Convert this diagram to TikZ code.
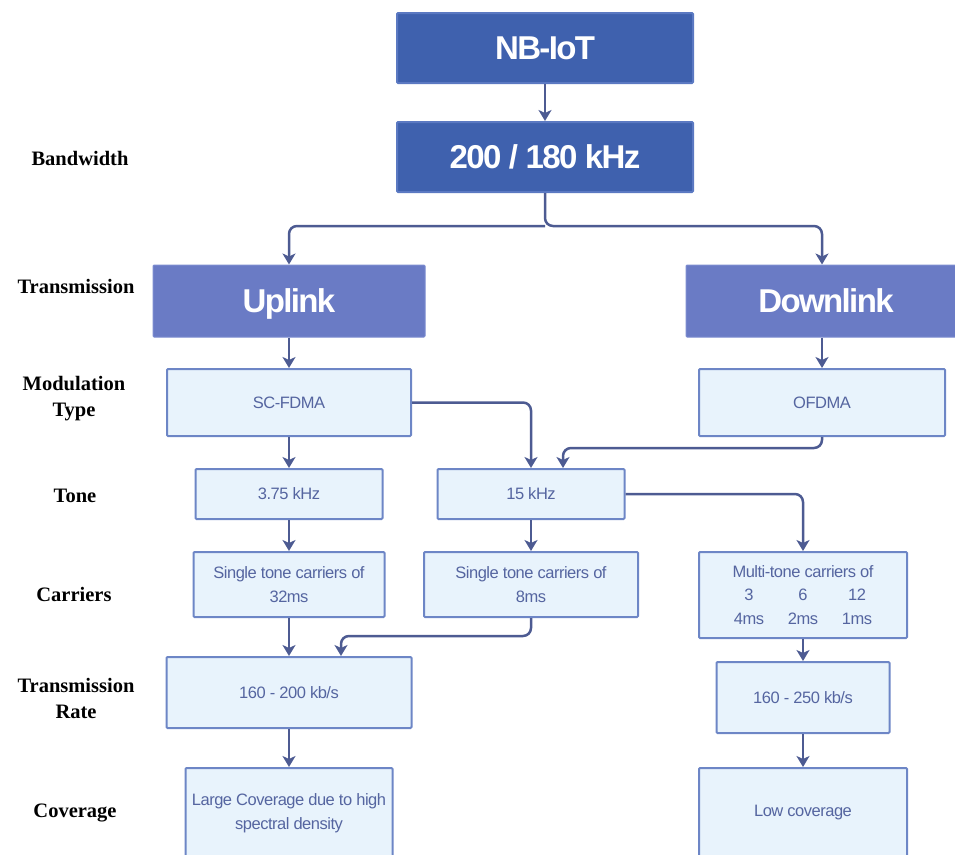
\documentclass[tikz,border=0pt]{standalone}
\usepackage{fontspec}
\setmainfont{Liberation Sans}
\newfontfamily\boxfont[LetterSpace=-3]{Liberation Sans}
\newfontfamily\headfont[LetterSpace=-5]{Liberation Sans}
\newfontfamily\labelfont{Liberation Serif}
\usetikzlibrary{arrows.meta,calc}

\definecolor{topblue}{HTML}{3F61AE}
\definecolor{topedge}{HTML}{5B79C2}
\definecolor{midblue}{HTML}{6A7BC5}
\definecolor{midedge}{HTML}{7D8DD0}
\definecolor{paleblue}{HTML}{E8F3FC}
\definecolor{paleedge}{HTML}{6D86C6}
\definecolor{wirecol}{HTML}{4D5B92}
\definecolor{boxtext}{HTML}{5565A0}

\tikzset{
  headtext/.style={text=white, font=\headfont\bfseries\fontsize{33}{36}\selectfont,
    inner sep=0pt, text height=23.6pt, text depth=0pt, rounded corners=1pt},
  topbox/.style={headtext, draw=topedge, fill=topblue, line width=2pt},
  linkbox/.style={headtext, draw=midedge, fill=midblue, line width=1pt},
  infobox/.style={draw=paleedge, fill=paleblue, line width=2pt, text=boxtext, align=center,
    font=\boxfont\fontsize{16.5}{23.5}\selectfont, inner sep=0pt, rounded corners=1pt},
  rowlabel/.style={align=center, text=black,
    font=\labelfont\bfseries\fontsize{20.5}{26}\selectfont, inner sep=0pt},
  wire/.style={draw=wirecol, line width=2.5pt, rounded corners=8pt,
    -{Stealth[length=11pt,width=13pt,inset=3pt]}},
}

\begin{document}
\begin{tikzpicture}[x=1pt,y=-1pt]
\useasboundingbox (0,0) rectangle (955,854);
\clip (0,0) rectangle (955,854);

% row labels
\node[rowlabel] (lbw) at (80,158) {Bandwidth};
\node[rowlabel] (ltx) at (76,286) {Transmission};
\node[rowlabel] (lmod) at (74,399) {Modulation\\Type};
\node[rowlabel] (ltone) at (75,496) {Tone};
\node[rowlabel] (lcar) at (74,594) {Carriers};
\node[rowlabel] (lrate) at (76,698) {Transmission\\Rate};
\node[rowlabel] (lcov) at (75,813) {Coverage};

% header boxes
\node[topbox, minimum width=296pt, minimum height=70pt] (nb) at (545,48) {NB-IoT};
\node[topbox, minimum width=296pt, minimum height=70pt] (bw) at (545,157) {200 / 180 kHz};
\node[linkbox, minimum width=272pt, minimum height=72pt] (up) at (289,301) {Uplink};
\node[linkbox, minimum width=280pt, minimum height=72pt] (dn) at (826,301) {Downlink};

% detail boxes
\node[infobox, minimum width=244pt, minimum height=67pt] (sc) at (289,402.5) {SC-FDMA};
\node[infobox, minimum width=246pt, minimum height=67pt] (of) at (822,402.5) {OFDMA};
\node[infobox, minimum width=187pt, minimum height=50pt] (t375) at (289,494) {3.75 kHz};
\node[infobox, minimum width=187pt, minimum height=50pt] (t15) at (531,494) {15 kHz};
\node[infobox, minimum width=191pt, minimum height=65pt] (c32) at (289,584.5) {Single tone carriers of\\32ms};
\node[infobox, minimum width=214pt, minimum height=65pt] (c8) at (531,584.5) {Single tone carriers of\\8ms};
\node[infobox, minimum width=208pt, minimum height=86pt] (cm) at (803,595)
  {Multi-tone carriers of\\\makebox[54pt]{3}\makebox[54pt]{6}\makebox[54pt]{12}\\
   \makebox[54pt]{4ms}\makebox[54pt]{2ms}\makebox[54pt]{1ms}};
\node[infobox, minimum width=245pt, minimum height=71pt] (r200) at (289,692.5) {160 - 200 kb/s};
\node[infobox, minimum width=173pt, minimum height=71pt] (r250) at (803,697.5) {160 - 250 kb/s};
\node[infobox, minimum width=207pt, minimum height=90pt] (cvl) at (289,813) {Large Coverage due to high\\spectral density};
\node[infobox, minimum width=208pt, minimum height=90pt] (cvs) at (803,813) {Low coverage};

% connectors
\coordinate (split) at (545,226);
\draw[wire] (nb) -- (bw);
\draw[wire] (bw.south) -- (split) -| (of.north |- dn.north);
\draw[wire] (split) -| (up.north);
\draw[wire] (up) -- (sc);
\draw[wire] (of.north |- dn.south) -- (of.north);
\draw[wire] (sc.east) -| (t15.north);
\draw[wire] (of.south) -- ++(0,11) -| ($(t15.north)+(32,0)$);
\draw[wire] (sc) -- (t375);
\draw[wire] (t375) -- (c32);
\draw[wire] (t15) -- (c8);
\draw[wire] (t15.east) -| (cm.north);
\draw[wire] (c32) -- (r200);
\draw[wire] (c8.south) -- ++(0,18) -| ($(r200.north)+(52,0)$);
\draw[wire] (cm) -- (r250);
\draw[wire] (r250) -- (cvs);
\draw[wire] (r200) -- (cvl);
\end{tikzpicture}
\end{document}
